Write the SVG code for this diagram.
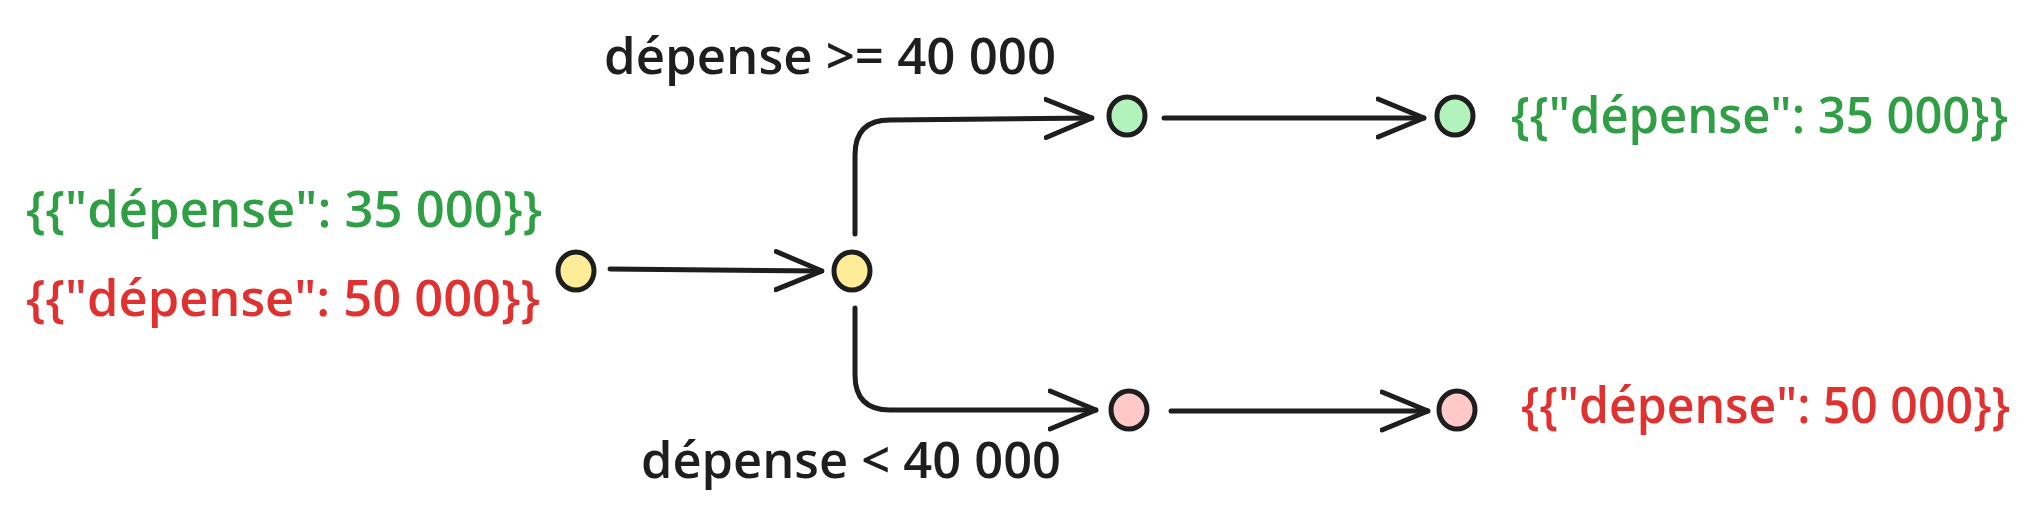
<svg xmlns="http://www.w3.org/2000/svg" width="2041" height="528" viewBox="0 0 2041 528">
<style>
text{font-family:"Open Sans","Liberation Sans",sans-serif;font-size:50px;font-weight:600}
.k{fill:#1e1e1e}.g{fill:#2f9e44}.r{fill:#e03131}
.n{stroke:#1e1e1e;stroke-width:5}
.c{fill:none;stroke:#1e1e1e;stroke-width:5;stroke-linecap:round;stroke-linejoin:round}
</style>
<defs><marker id="a" viewBox="0 0 50 44" refX="48" refY="22" markerWidth="50" markerHeight="44" markerUnits="userSpaceOnUse" orient="auto"><path d="M2 3 L48 22 L2 41" fill="none" stroke="#1e1e1e" stroke-width="5" stroke-linecap="round" stroke-linejoin="round"/></marker></defs>
<rect width="2041" height="528" fill="#fff"/>
<g id="connectors">
<path class="c" d="M610 269 L822 271" marker-end="url(#a)"/>
<path class="c" d="M855 234 L855 155 Q855 120 890 120 L1092 118" marker-end="url(#a)"/>
<path class="c" d="M855 308 L855 375 Q855 410 890 410 L1096 410" marker-end="url(#a)"/>
<path class="c" d="M1164 118 L1424 118" marker-end="url(#a)"/>
<path class="c" d="M1171 411 L1428 411" marker-end="url(#a)"/>
</g>
<g id="n1"><ellipse class="n" cx="576" cy="271" rx="18" ry="19" fill="#ffec99"/></g>
<g id="n2"><ellipse class="n" cx="852" cy="271" rx="18" ry="19" fill="#ffec99"/></g>
<g id="n3"><ellipse class="n" cx="1127" cy="116" rx="18" ry="19" fill="#b2f2bb"/></g>
<g id="n4"><ellipse class="n" cx="1455" cy="116" rx="18" ry="19" fill="#b2f2bb"/></g>
<g id="n5"><ellipse class="n" cx="1129" cy="410" rx="18" ry="19" fill="#ffc9c9"/></g>
<g id="n6"><ellipse class="n" cx="1457" cy="410" rx="18" ry="19" fill="#ffc9c9"/></g>
<g id="labels">
<text class="k" x="604" y="74" textLength="452" lengthAdjust="spacingAndGlyphs">dépense &gt;= 40 000</text>
<text class="k" x="641" y="478" textLength="420" lengthAdjust="spacingAndGlyphs">dépense &lt; 40 000</text>
<text class="g" x="26" y="227" textLength="516" lengthAdjust="spacingAndGlyphs">{{"dépense": 35 000}}</text>
<text class="r" x="26" y="316" textLength="514" lengthAdjust="spacingAndGlyphs">{{"dépense": 50 000}}</text>
<text class="g" x="1511" y="133" textLength="497" lengthAdjust="spacingAndGlyphs">{{"dépense": 35 000}}</text>
<text class="r" x="1521" y="423" textLength="489" lengthAdjust="spacingAndGlyphs">{{"dépense": 50 000}}</text>
</g>
</svg>
